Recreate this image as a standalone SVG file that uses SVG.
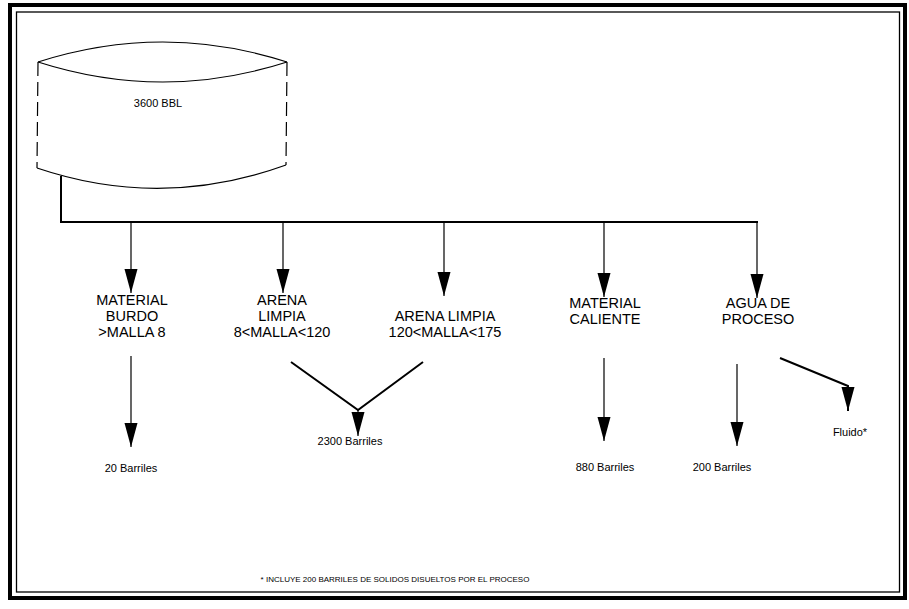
<svg xmlns="http://www.w3.org/2000/svg" width="909" height="609" viewBox="0 0 909 609">
<style>
.lbl{font-family:"Liberation Sans",Arial,sans-serif;font-size:14.5px;fill:#000;text-anchor:middle}
.sm{font-family:"Liberation Sans",Arial,sans-serif;font-size:11px;fill:#000;text-anchor:middle}
.ft{font-family:"Liberation Sans",Arial,sans-serif;font-size:8px;fill:#000;text-anchor:middle}
.ln{fill:none;stroke:#000;stroke-width:1.2}
.bus{fill:none;stroke:#000;stroke-width:2}
.arr{marker-end:url(#ah)}
</style>
<defs>
<marker id="ah" viewBox="0 -8 26 16" refX="24" refY="0" markerWidth="26" markerHeight="16" markerUnits="userSpaceOnUse" orient="auto">
<path d="M0,-6.5 L24,0 L0,6.5 Z" fill="#000"/>
</marker>
</defs>
<rect width="909" height="609" fill="#fff"/>
<g id="frame">
<rect x="10" y="5" width="895" height="593" fill="none" stroke="#000" stroke-width="4"/>
<rect x="16.5" y="12" width="883" height="580" fill="none" stroke="#000" stroke-width="1.3"/>
</g>
<g id="tank">
<path d="M38,62 Q163,22 287,62" class="ln"/>
<path d="M38,62 Q163,102 287,62" class="ln"/>
<path d="M37,168 Q161,210 286,165" class="ln"/>
<path d="M38,62 L37,168 M287,62 L286,165" class="ln" stroke-dasharray="14 6" stroke-width="1"/>
<text x="158" y="107" class="sm" font-size="10px">3600 BBL</text>
</g>
<g id="connectors">
<path d="M61,176 L61,222 L758,222" class="bus"/>
<path d="M131,222 L131,293" class="ln arr"/>
<path d="M283,222 L283,293" class="ln arr"/>
<path d="M444,222 L444,296" class="ln arr"/>
<path d="M604,222 L604,297" class="ln arr"/>
<path d="M757,222 L757,298" class="ln arr"/>
<path d="M131,356 L131,447" class="ln arr"/>
<path d="M291,362 L358,410 L423,362" class="bus"/>
<path d="M358,410 L358,436" class="ln arr"/>
<path d="M604,358 L604,441" class="ln arr"/>
<path d="M737,364 L737,446" class="ln arr"/>
<path d="M780,358 L848,386 L848,411" class="bus arr"/>
</g>
<g id="n-burdo">
<text x="132" y="305" class="lbl">MATERIAL</text>
<text x="132" y="321" class="lbl">BURDO</text>
<text x="132" y="337" class="lbl">&gt;MALLA 8</text>
</g>
<g id="n-arena1">
<text x="282" y="305" class="lbl">ARENA</text>
<text x="282" y="321" class="lbl">LIMPIA</text>
<text x="282" y="337" class="lbl">8&lt;MALLA&lt;120</text>
</g>
<g id="n-arena2">
<text x="445" y="321" class="lbl">ARENA LIMPIA</text>
<text x="445" y="337" class="lbl">120&lt;MALLA&lt;175</text>
</g>
<g id="n-caliente">
<text x="605" y="308" class="lbl">MATERIAL</text>
<text x="605" y="324" class="lbl">CALIENTE</text>
</g>
<g id="n-agua">
<text x="758" y="308" class="lbl">AGUA DE</text>
<text x="758" y="324" class="lbl">PROCESO</text>
</g>
<g id="r-burdo"><text x="131" y="472" class="sm">20 Barriles</text></g>
<g id="r-arena"><text x="350" y="445" class="sm" font-size="12px">2300 Barriles</text></g>
<g id="r-caliente"><text x="605" y="471" class="sm">880 Barriles</text></g>
<g id="r-agua"><text x="722" y="471" class="sm">200 Barriles</text></g>
<g id="r-fluido"><text x="850" y="436" class="sm" font-size="10px">Fluido*</text></g>
<g id="note"><text x="395" y="582" class="ft">* INCLUYE 200 BARRILES DE SOLIDOS DISUELTOS POR EL PROCESO</text></g>
</svg>
